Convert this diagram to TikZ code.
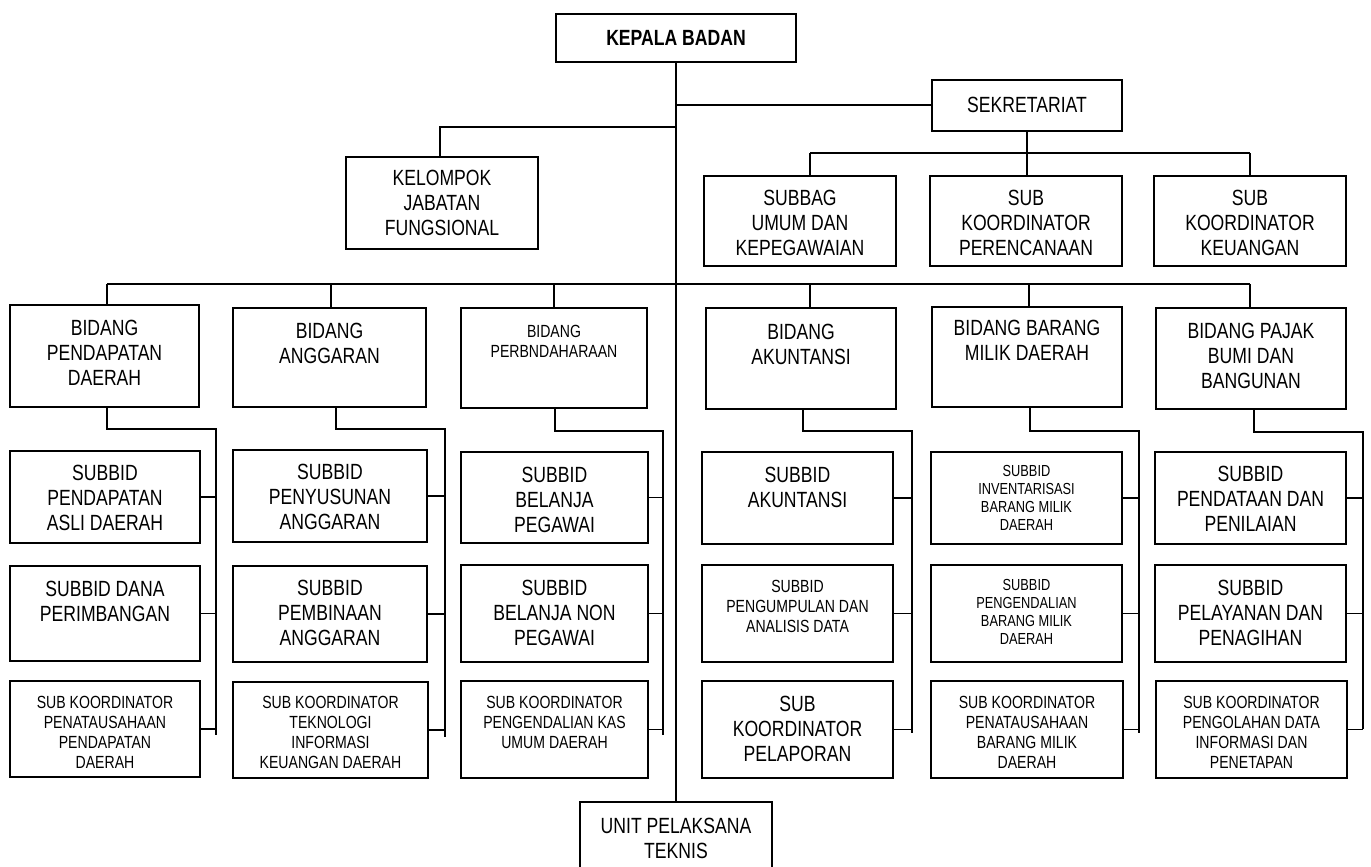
\documentclass[tikz,border=0pt]{standalone}
\usepackage{fontspec}
\setmainfont{Liberation Sans}[FakeStretch=0.8]
\newcommand\fmain{\fontsize{11}{12.5}\selectfont}
\newcommand\fmed{\fontsize{8.8}{10}\selectfont}
\newcommand\fsml{\fontsize{8}{9}\selectfont}
% name, x1, y1, x2, y2, text y, text style, text
\newcommand\orgbox[8]{%
  \node[boxst, minimum width={(#4-#2)*0.5pt}, minimum height={(#5-#3)*0.5pt}] (#1) at ({(#2+#4)/2},{(#3+#5)/2}) {};
  \node[txtst, #7] (#1t) at ({(#2+#4)/2},#6) {#8};}
\tikzset{
  boxst/.style={draw, line width=1pt, rectangle, inner sep=0pt, outer sep=0pt},
  txtst/.style={align=center, inner sep=0pt, font=\fmain},
  med/.style={font=\fmed},
  sml/.style={font=\fsml},
  mainln/.style={line width=0.85pt},
  subln/.style={line width=0.6pt},
}
\begin{document}
\begin{tikzpicture}[x=0.5pt, y=-0.5pt]
\useasboundingbox (0,0) rectangle (1371,867);
% top
\orgbox{kb}{556}{14}{796}{62}{38}{font=\fmain\bfseries}{KEPALA BADAN}
\orgbox{sek}{932}{80}{1122}{131}{105}{}{SEKRETARIAT}
\orgbox{kjf}{346}{157}{538}{249}{203}{}{KELOMPOK\\JABATAN\\FUNGSIONAL}
\orgbox{sbu}{704}{176}{896}{266}{223}{}{SUBBAG\\UMUM DAN\\KEPEGAWAIAN}
\orgbox{skp}{930}{176}{1122}{266}{223}{}{SUB\\KOORDINATOR\\PERENCANAAN}
\orgbox{skk}{1154}{176}{1346}{266}{223}{}{SUB\\KOORDINATOR\\KEUANGAN}
% bidang
\orgbox{bpd}{10}{305}{199}{407}{353}{}{BIDANG\\PENDAPATAN\\DAERAH}
\orgbox{ba}{233}{308}{426}{407}{343}{}{BIDANG\\ANGGARAN}
\orgbox{bp}{461}{308}{647}{408}{341}{med}{BIDANG\\PERBNDAHARAAN}
\orgbox{bak}{706}{308}{896}{409}{344}{}{BIDANG\\AKUNTANSI}
\orgbox{bbm}{932}{307}{1122}{407}{340}{}{BIDANG BARANG\\MILIK DAERAH}
\orgbox{bpb}{1156}{308}{1346}{409}{356}{}{BIDANG PAJAK\\BUMI DAN\\BANGUNAN}
% row 1
\orgbox{c11}{10}{451}{200}{543}{498}{}{SUBBID\\PENDAPATAN\\ASLI DAERAH}
\orgbox{c21}{233}{450}{427}{542}{497}{}{SUBBID\\PENYUSUNAN\\ANGGARAN}
\orgbox{c31}{461}{452}{648}{543}{500}{}{SUBBID\\BELANJA\\PEGAWAI}
\orgbox{c41}{702}{452}{893}{544}{487}{}{SUBBID\\AKUNTANSI}
\orgbox{c51}{931}{452}{1122}{544}{498}{sml}{SUBBID\\INVENTARISASI\\BARANG MILIK\\DAERAH}
\orgbox{c61}{1155}{452}{1346}{544}{499}{}{SUBBID\\PENDATAAN DAN\\PENILAIAN}
% row 2
\orgbox{c12}{10}{566}{200}{661}{601}{}{SUBBID DANA\\PERIMBANGAN}
\orgbox{c22}{233}{566}{427}{662}{613}{}{SUBBID\\PEMBINAAN\\ANGGARAN}
\orgbox{c32}{461}{565}{648}{662}{613}{}{SUBBID\\BELANJA NON\\PEGAWAI}
\orgbox{c42}{702}{565}{893}{662}{606}{med}{SUBBID\\PENGUMPULAN DAN\\ANALISIS DATA}
\orgbox{c52}{931}{565}{1122}{662}{612}{sml}{SUBBID\\PENGENDALIAN\\BARANG MILIK\\DAERAH}
\orgbox{c62}{1155}{565}{1346}{662}{613}{}{SUBBID\\PELAYANAN DAN\\PENAGIHAN}
% row 3
\orgbox{c13}{10}{681}{200}{777}{732}{med}{SUB KOORDINATOR\\PENATAUSAHAAN\\PENDAPATAN\\DAERAH}
\orgbox{c23}{233}{682}{428}{778}{732}{med}{SUB KOORDINATOR\\TEKNOLOGI\\INFORMASI\\KEUANGAN DAERAH}
\orgbox{c33}{461}{681}{648}{778}{722}{med}{SUB KOORDINATOR\\PENGENDALIAN KAS\\UMUM DAERAH}
\orgbox{c43}{702}{681}{893}{778}{729}{}{SUB\\KOORDINATOR\\PELAPORAN}
\orgbox{c53}{931}{681}{1123}{778}{732}{med}{SUB KOORDINATOR\\PENATAUSAHAAN\\BARANG MILIK\\DAERAH}
\orgbox{c63}{1156}{681}{1347}{778}{732}{med}{SUB KOORDINATOR\\PENGOLAHAN DATA\\INFORMASI DAN\\PENETAPAN}
% bottom
\orgbox{upt}{580}{802}{772}{874}{838}{}{UNIT PELAKSANA\\TEKNIS}

% trunk
\draw[mainln] (kb.south) -- (upt.north);
\coordinate (jS) at (676,105);
\coordinate (jK) at (676,127);
\draw[mainln] (jS) -- (jS -| sek.west);
\coordinate (kx) at (440,0);
\draw[mainln] (jK) -| (kx |- kjf.north);
% sekretariat
\draw[mainln] (sek.south) -- (sek.south |- skp.north);
\coordinate (sb1) at (810,153);
\coordinate (sb2) at (1250,153);
\draw[mainln] (sb1) -- (sb2);
\draw[mainln] (sb1) -- (sb1 |- sbu.north);
\draw[mainln] (sb2) -- (sb2 |- skk.north);
% main bus
\coordinate (b1) at (107,284);
\coordinate (b2) at (331,284);
\coordinate (b3) at (554,284);
\coordinate (b4) at (810,284);
\coordinate (b5) at (1029,284);
\coordinate (b6) at (1250,284);
\draw[mainln] (b1) -- (b6);
\draw[subln] (b1) -- (b1 |- bpd.north);
\draw[subln] (b2) -- (b2 |- ba.north);
\draw[subln] (b3) -- (b3 |- bp.north);
\draw[subln] (b4) -- (b4 |- bak.north);
\draw[subln] (b5) -- (b5 |- bbm.north);
\draw[subln] (b6) -- (b6 |- bpb.north);
% column connectors
\coordinate (d1) at (107,0);  \coordinate (vt1) at (216,429);  \coordinate (ve1) at (216,735);
\coordinate (d2) at (336,0);  \coordinate (vt2) at (445,429);  \coordinate (ve2) at (445,737);
\coordinate (d3) at (555,0);  \coordinate (vt3) at (663,431);  \coordinate (ve3) at (663,735);
\coordinate (d4) at (803,0);  \coordinate (vt4) at (912,431);  \coordinate (ve4) at (912,733);
\coordinate (d5) at (1030,0); \coordinate (vt5) at (1139,431); \coordinate (ve5) at (1139,733);
\coordinate (d6) at (1254,0); \coordinate (vt6) at (1363,432); \coordinate (ve6) at (1363,729);
\draw[subln] (d1 |- bpd.south) |- (vt1) -- (ve1);
\draw[subln] (d2 |- ba.south) |- (vt2) -- (ve2);
\draw[subln] (d3 |- bp.south) |- (vt3) -- (ve3);
\draw[subln] (d4 |- bak.south) |- (vt4) -- (ve4);
\draw[subln] (d5 |- bbm.south) |- (vt5) -- (ve5);
\draw[subln] (d6 |- bpb.south) |- (vt6) -- (ve6);
\foreach \c/\v in {1/vt1,2/vt2,3/vt3,4/vt4,5/vt5,6/vt6}{
  \draw[subln] (c\c1.east) -- (c\c1.east -| \v);
  \draw[subln] (c\c2.east) -- (c\c2.east -| \v);
  \draw[subln] (c\c3.east) -- (c\c3.east -| \v);
}
\end{tikzpicture}
\end{document}
